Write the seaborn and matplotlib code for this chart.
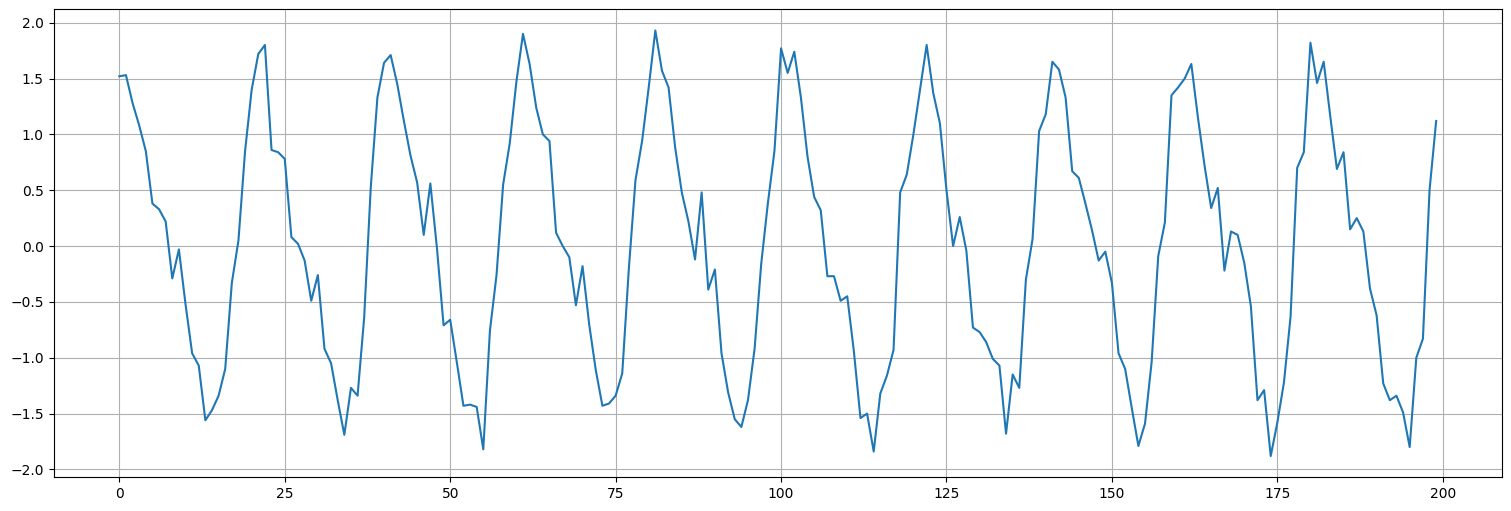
import matplotlib
matplotlib.use("Agg")
import matplotlib.pyplot as plt
import seaborn as sns
import numpy as np
import pandas as pd

values = [
    1.52, 1.53, 1.28, 1.08, 0.85, 0.38, 0.33, 0.22, -0.29, -0.03,
    -0.52, -0.96, -1.07, -1.56, -1.47, -1.34, -1.10, -0.33, 0.05, 0.85,
    1.40, 1.72, 1.80, 0.86, 0.84, 0.78, 0.08, 0.02, -0.13, -0.49,
    -0.26, -0.92, -1.05, -1.38, -1.69, -1.27, -1.34, -0.64, 0.53, 1.33,
    1.64, 1.71, 1.45, 1.12, 0.81, 0.57, 0.10, 0.56, -0.02, -0.71,
    -0.66, -1.04, -1.43, -1.42, -1.44, -1.82, -0.76, -0.26, 0.55, 0.92,
    1.47, 1.90, 1.63, 1.24, 1.00, 0.94, 0.12, 0.00, -0.10, -0.53,
    -0.18, -0.70, -1.11, -1.43, -1.41, -1.34, -1.14, -0.20, 0.59, 0.94,
    1.42, 1.93, 1.57, 1.42, 0.88, 0.48, 0.22, -0.12, 0.48, -0.39,
    -0.21, -0.96, -1.31, -1.55, -1.62, -1.38, -0.92, -0.16, 0.38, 0.85,
    1.77, 1.55, 1.74, 1.33, 0.80, 0.44, 0.32, -0.27, -0.27, -0.49,
    -0.45, -0.94, -1.54, -1.50, -1.84, -1.32, -1.16, -0.93, 0.48, 0.64,
    1.00, 1.40, 1.80, 1.37, 1.10, 0.50, 0.00, 0.26, -0.04, -0.73,
    -0.77, -0.86, -1.01, -1.07, -1.68, -1.15, -1.27, -0.30, 0.06, 1.03,
    1.18, 1.65, 1.58, 1.33, 0.67, 0.61, 0.38, 0.14, -0.13, -0.05,
    -0.33, -0.96, -1.10, -1.45, -1.79, -1.59, -1.04, -0.09, 0.21, 1.35,
    1.42, 1.50, 1.63, 1.15, 0.72, 0.34, 0.52, -0.22, 0.13, 0.10,
    -0.15, -0.54, -1.38, -1.29, -1.88, -1.58, -1.22, -0.63, 0.70, 0.84,
    1.82, 1.46, 1.65, 1.16, 0.69, 0.84, 0.15, 0.25, 0.13, -0.38,
    -0.62, -1.23, -1.38, -1.34, -1.49, -1.80, -1.00, -0.83, 0.50, 1.12,
]
index = list(range(len(values)))

df = pd.DataFrame({"x": index, "y": values})

fig = plt.figure(figsize=(15.11, 5.11), dpi=100)
ax = fig.add_axes([53.5/1511, 1 - 477.3/511, (1502-53.5)/1511, (477.3-9.2)/511])
sns.lineplot(data=df, x="x", y="y", ax=ax, color="#1f77b4", linewidth=1.5)
ax.grid(True)
ax.set_xlabel("")
ax.set_ylabel("")
fig.savefig("out.png", dpi=100)
